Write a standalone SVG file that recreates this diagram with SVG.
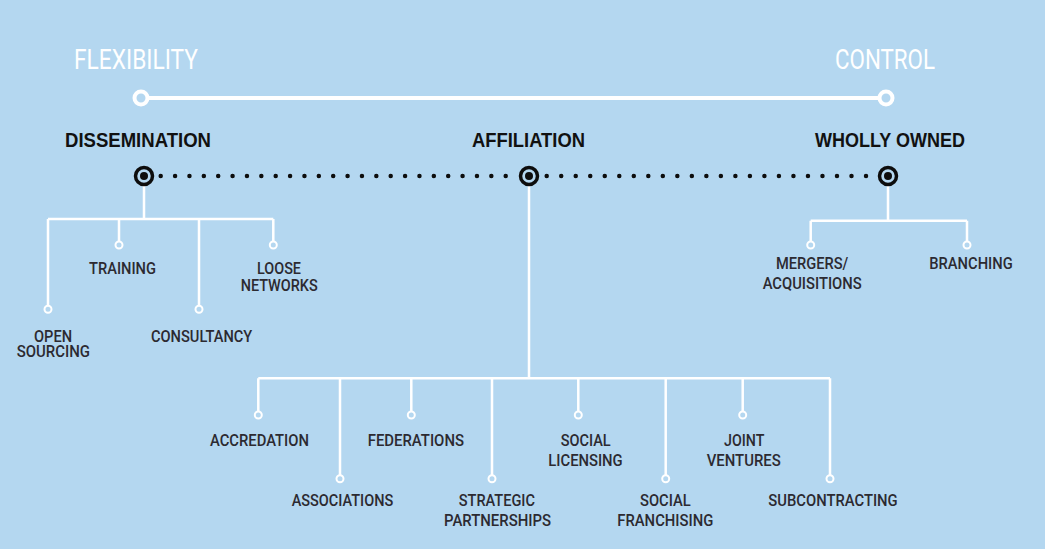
<svg xmlns="http://www.w3.org/2000/svg" width="1045" height="549" viewBox="0 0 1045 549">
<style>
.bg{fill:#b4d7f0}
.axis{stroke:#fff;stroke-width:4;fill:none}
.end{fill:#b4d7f0;stroke:#fff;stroke-width:4}
.dots{stroke:#0d0d0d;stroke-width:4.5;stroke-linecap:round;fill:none}
.tgt{fill:#b4d7f0;stroke:#0d0d0d;stroke-width:3.5}
.core{fill:#0d0d0d}
.br{stroke:#fff;stroke-width:2.5;fill:none}
.leaf{fill:#b4d7f0;stroke:#fff;stroke-width:2}
.big{font-family:Roboto,"Liberation Sans",sans-serif;font-size:28px;fill:#fff}
.head{font-family:"Liberation Sans",Arial,sans-serif;font-weight:bold;font-size:19.5px;fill:#111}
.lab{font-family:Roboto,"Liberation Sans",sans-serif;font-size:17px;font-weight:500;fill:#2c2a31}
</style>
<rect class="bg" x="0" y="0" width="1045" height="549"/>

<g id="axis">
  <line class="axis" x1="141" y1="98" x2="886" y2="98"/>
  <circle class="end" cx="141" cy="98" r="6.5"/>
  <circle class="end" cx="886" cy="98" r="6.5"/>
  <text class="big" x="74" y="69" textLength="124" lengthAdjust="spacingAndGlyphs">FLEXIBILITY</text>
  <text class="big" x="835" y="69" textLength="100" lengthAdjust="spacingAndGlyphs">CONTROL</text>
</g>

<g id="connectors">
  <path class="dots" d="M160.7 176H506.2" stroke-dasharray="0 14.375"/>
  <path class="dots" d="M546.7 176H866.5" stroke-dasharray="0 14.514"/>
  <path class="br" d="M144 185V219M48 219H273.3M48 219V305.8M119 219V241.5M199 219V305.8M273.3 219V241.5"/>
  <path class="br" d="M529 185V378.3M258.3 378.3H830M258.3 378.3V411.5M340 378.3V475.2M411.3 378.3V411.5M492 378.3V475.2M578.3 378.3V411.5M665.7 378.3V475.2M742.7 378.3V411.5M830 378.3V475.2"/>
  <path class="br" d="M888 185V220.7M810.7 220.7H967M810.7 220.7V241.5M967 220.7V241.5"/>
</g>

<g id="dissemination">
  <circle class="tgt" cx="144" cy="176" r="8.5"/>
  <circle class="core" cx="144" cy="176" r="4"/>
  <text class="head" x="65" y="147" textLength="146" lengthAdjust="spacingAndGlyphs">DISSEMINATION</text>
</g>
<g id="affiliation">
  <circle class="tgt" cx="529" cy="176" r="8.5"/>
  <circle class="core" cx="529" cy="176" r="4"/>
  <text class="head" x="472" y="147" textLength="113" lengthAdjust="spacingAndGlyphs">AFFILIATION</text>
</g>
<g id="wholly-owned">
  <circle class="tgt" cx="888" cy="176" r="8.5"/>
  <circle class="core" cx="888" cy="176" r="4"/>
  <text class="head" x="815" y="147" textLength="150" lengthAdjust="spacingAndGlyphs">WHOLLY OWNED</text>
</g>

<g id="open-sourcing">
  <circle class="leaf" cx="48" cy="309.3" r="3.5"/>
  <text class="lab"><tspan x="34" y="341.7" textLength="38" lengthAdjust="spacingAndGlyphs">OPEN</tspan><tspan x="16.7" y="357.3" textLength="73.3" lengthAdjust="spacingAndGlyphs">SOURCING</tspan></text>
</g>
<g id="training">
  <circle class="leaf" cx="119" cy="245" r="3.5"/>
  <text class="lab" x="89" y="274" textLength="67" lengthAdjust="spacingAndGlyphs">TRAINING</text>
</g>
<g id="consultancy">
  <circle class="leaf" cx="199" cy="309.3" r="3.5"/>
  <text class="lab" x="151" y="341.7" textLength="101.3" lengthAdjust="spacingAndGlyphs">CONSULTANCY</text>
</g>
<g id="loose-networks">
  <circle class="leaf" cx="273.3" cy="245" r="3.5"/>
  <text class="lab"><tspan x="257" y="274" textLength="44" lengthAdjust="spacingAndGlyphs">LOOSE</tspan><tspan x="240.7" y="290.7" textLength="77" lengthAdjust="spacingAndGlyphs">NETWORKS</tspan></text>
</g>

<g id="mergers-acquisitions">
  <circle class="leaf" cx="810.7" cy="245" r="3.5"/>
  <text class="lab"><tspan x="776" y="269.3" textLength="72.3" lengthAdjust="spacingAndGlyphs">MERGERS/</tspan><tspan x="762.7" y="289.3" textLength="99" lengthAdjust="spacingAndGlyphs">ACQUISITIONS</tspan></text>
</g>
<g id="branching">
  <circle class="leaf" cx="967" cy="245" r="3.5"/>
  <text class="lab" x="929.3" y="269.3" textLength="83.4" lengthAdjust="spacingAndGlyphs">BRANCHING</text>
</g>

<g id="accredation">
  <circle class="leaf" cx="258.3" cy="415" r="3.5"/>
  <text class="lab" x="210" y="446" textLength="99" lengthAdjust="spacingAndGlyphs">ACCREDATION</text>
</g>
<g id="associations">
  <circle class="leaf" cx="340" cy="478.7" r="3.5"/>
  <text class="lab" x="291.7" y="506" textLength="101.6" lengthAdjust="spacingAndGlyphs">ASSOCIATIONS</text>
</g>
<g id="federations">
  <circle class="leaf" cx="411.3" cy="415" r="3.5"/>
  <text class="lab" x="367.7" y="446" textLength="96.3" lengthAdjust="spacingAndGlyphs">FEDERATIONS</text>
</g>
<g id="strategic-partnerships">
  <circle class="leaf" cx="492" cy="478.7" r="3.5"/>
  <text class="lab"><tspan x="458.7" y="506" textLength="76.3" lengthAdjust="spacingAndGlyphs">STRATEGIC</tspan><tspan x="444" y="525.7" textLength="107" lengthAdjust="spacingAndGlyphs">PARTNERSHIPS</tspan></text>
</g>
<g id="social-licensing">
  <circle class="leaf" cx="578.3" cy="415" r="3.5"/>
  <text class="lab"><tspan x="560.7" y="446" textLength="50" lengthAdjust="spacingAndGlyphs">SOCIAL</tspan><tspan x="548.3" y="465.7" textLength="74.4" lengthAdjust="spacingAndGlyphs">LICENSING</tspan></text>
</g>
<g id="social-franchising">
  <circle class="leaf" cx="665.7" cy="478.7" r="3.5"/>
  <text class="lab"><tspan x="640" y="506" textLength="50.7" lengthAdjust="spacingAndGlyphs">SOCIAL</tspan><tspan x="617.3" y="525.7" textLength="96" lengthAdjust="spacingAndGlyphs">FRANCHISING</tspan></text>
</g>
<g id="joint-ventures">
  <circle class="leaf" cx="742.7" cy="415" r="3.5"/>
  <text class="lab"><tspan x="724" y="446" textLength="40.3" lengthAdjust="spacingAndGlyphs">JOINT</tspan><tspan x="706.7" y="465.7" textLength="74" lengthAdjust="spacingAndGlyphs">VENTURES</tspan></text>
</g>
<g id="subcontracting">
  <circle class="leaf" cx="830" cy="478.7" r="3.5"/>
  <text class="lab" x="768.3" y="506" textLength="129.4" lengthAdjust="spacingAndGlyphs">SUBCONTRACTING</text>
</g>
</svg>
